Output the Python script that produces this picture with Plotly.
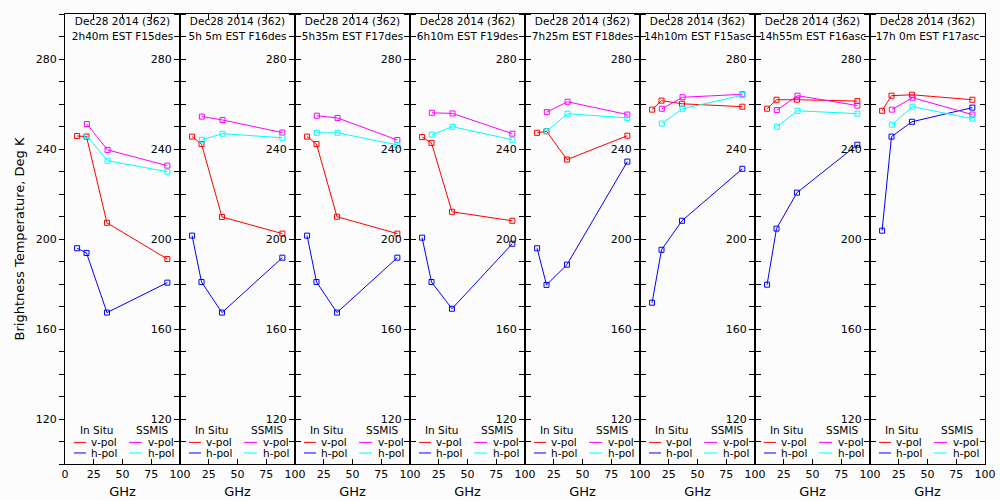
import plotly.graph_objects as go
from plotly.subplots import make_subplots

# ---------------- data ----------------
freq_insitu = [10.5, 18.7, 36.5, 89.0]
freq_ssmis = [19.0, 37.0, 89.0]

title_line1 = ["Dec28 2014 (362)"] * 8
title_line2 = ["2h40m EST F15des", "5h 5m EST F16des", "5h35m EST F17des",
               "6h10m EST F19des", "7h25m EST F18des", "14h10m EST F15asc",
               "14h55m EST F16asc", "17h 0m EST F17asc"]

insitu_v = [
    [245.8, 245.5, 207.2, 191.1],
    [245.5, 242.2, 209.8, 202.4],
    [245.5, 242.2, 209.9, 202.4],
    [245.3, 242.7, 212.1, 208.1],
    [247.2, 247.9, 235.3, 245.9],
    [257.5, 261.5, 260.1, 258.8],
    [257.9, 261.9, 261.9, 261.3],
    [257.0, 263.7, 264.1, 261.9],
]
insitu_h = [
    [195.9, 193.8, 167.3, 180.6],
    [201.5, 180.9, 167.3, 191.7],
    [201.5, 180.9, 167.3, 191.7],
    [200.6, 180.9, 169.0, 197.9],
    [195.9, 179.6, 188.6, 234.4],
    [171.7, 195.2, 208.1, 231.2],
    [179.7, 204.6, 220.6, 241.9],
    [203.7, 245.5, 252.1, 258.4],
]
ssmis_v = [
    [251.1, 239.6, 232.6],
    [254.4, 252.9, 247.3],
    [254.8, 253.8, 244.0],
    [256.1, 255.8, 246.8],
    [256.4, 261.0, 255.3],
    [257.9, 263.0, 264.3],
    [257.3, 263.7, 259.3],
    [257.5, 262.8, 255.3],
]
ssmis_h = [
    [245.8, 234.8, 229.9],
    [244.1, 246.8, 245.0],
    [247.2, 247.2, 241.8],
    [246.4, 249.9, 244.1],
    [247.9, 255.7, 253.8],
    [251.3, 257.9, 263.9],
    [249.9, 257.0, 255.7],
    [250.8, 258.8, 253.5],
]

x_ticks_first = [0, 25, 50, 75, 100]
x_ticks_rest = [25, 50, 75, 100]
y_ticks = [120, 160, 200, 240, 280]

# ---------------- style ----------------
FONT = "DejaVu Sans"
BG = "#fcfcfc"
C_IV, C_IH, C_SV, C_SH = "#ff0000", "#0000ff", "#ff00ff", "#00ffff"
N = 8

fig = make_subplots(rows=1, cols=N, horizontal_spacing=0)

for i in range(N):
    c = i + 1
    for xs, ys, col in [(freq_insitu, insitu_v[i], C_IV),
                        (freq_insitu, insitu_h[i], C_IH),
                        (freq_ssmis, ssmis_v[i], C_SV),
                        (freq_ssmis, ssmis_h[i], C_SH)]:
        fig.add_trace(go.Scatter(
            x=xs, y=ys, mode="lines+markers",
            line=dict(color=col, width=1),
            marker=dict(symbol="square-open", size=5, color=col, line=dict(width=1, color=col)),
            showlegend=False, hoverinfo="skip"), row=1, col=c)
    # panel titles (clipped to panel)
    fig.add_trace(go.Scatter(
        x=[50, 50], y=[296.4, 289.8], mode="text",
        text=[title_line1[i], title_line2[i]], textposition="middle center",
        textfont=dict(family=FONT, size=10.5, color="black"),
        cliponaxis=True, showlegend=False, hoverinfo="skip"), row=1, col=c)

    xa = "x" if c == 1 else f"x{c}"
    ya = "y" if c == 1 else f"y{c}"
    # legend inside panel
    for (x0, x1, yv, col) in [(7.8, 18.3, 109.6, C_IV), (7.8, 18.3, 104.9, C_IH),
                              (55.7, 67.0, 109.6, C_SV), (55.7, 67.0, 104.9, C_SH)]:
        fig.add_shape(type="line", x0=x0, x1=x1, y0=yv, y1=yv, xref=xa, yref=ya,
                      line=dict(color=col, width=1))
    for (xv, yv, txt, anc) in [(27, 115.0, "In Situ", "center"), (76.0, 115.0, "SSMIS", "center"),
                               (21.0, 109.6, "v-pol", "left"), (21.0, 104.9, "h-pol", "left"),
                               (70.0, 109.6, "v-pol", "left"), (70.0, 104.9, "h-pol", "left")]:
        fig.add_annotation(x=xv, y=yv, xref=xa, yref=ya, text=txt, showarrow=False,
                           xanchor=anc, yanchor="middle",
                           font=dict(family=FONT, size=10.5, color="black"))

    fig.update_xaxes(
        range=[0, 100], tickvals=x_ticks_first if c == 1 else x_ticks_rest,
        ticks="inside", ticklen=5, tickcolor="black", mirror="ticks",
        showline=True, linecolor="black", linewidth=1, showgrid=False, zeroline=False,
        tickfont=dict(family=FONT, size=11, color="black"), automargin=False,
        title=dict(text="GHz", font=dict(family=FONT, size=13, color="black"), standoff=6),
        row=1, col=c)
    fig.update_yaxes(
        range=[100, 300], tickvals=y_ticks,
        ticks="outside", ticklen=5, tickcolor="black",
        mirror=("ticks" if c < N else True),
        minor=dict(dtick=10, tick0=100, ticks="outside", ticklen=5, tickcolor="black"),
        showline=True, linecolor="black", linewidth=1, showgrid=False, zeroline=False,
        tickfont=dict(family=FONT, size=11, color="black"), automargin=False,
        row=1, col=c)

fig.update_yaxes(title=dict(text="Brightness Temperature, Deg K",
                            font=dict(family=FONT, size=13, color="black"), standoff=8),
                 row=1, col=1)

# inward ticks on the right edge of the last panel
fig.add_trace(go.Scatter(x=[], y=[], xaxis="x8", yaxis="y9", showlegend=False))
fig.update_layout(yaxis9=dict(overlaying="y8", anchor="x8", side="right", range=[100, 300],
                              tickvals=y_ticks, ticks="inside", ticklen=5, tickcolor="black",
                              minor=dict(dtick=10, tick0=100, ticks="inside", ticklen=5,
                                         tickcolor="black"),
                              showticklabels=False, showline=False, showgrid=False,
                              zeroline=False, automargin=False))

fig.update_layout(
    width=1000, height=500,
    margin=dict(l=65, r=15, t=14, b=36),
    paper_bgcolor=BG, plot_bgcolor=BG,
    font=dict(family=FONT, size=11, color="black"),
    showlegend=False,
    hovermode=False,
)

fig.write_html("out.html", config={"displayModeBar": False, "staticPlot": True},
               post_script="document.body.style.margin='0px';document.body.style.background='#fcfcfc';")
